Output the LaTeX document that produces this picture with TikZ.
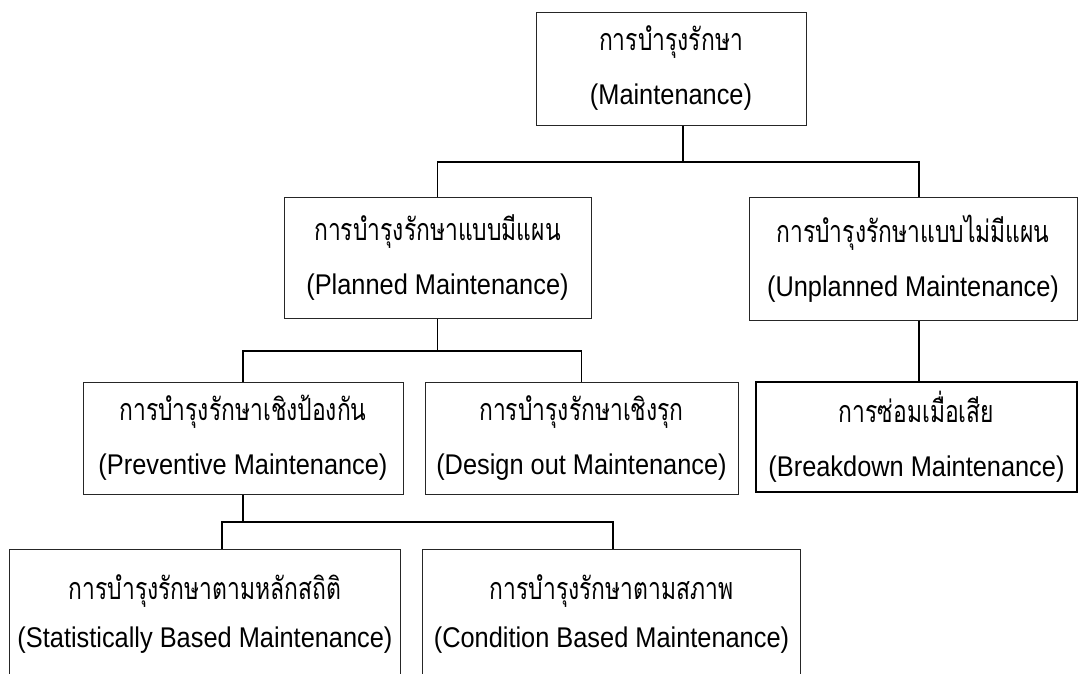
\documentclass[tikz,border=0pt]{standalone}
\usepackage{fontspec}
\setmainfont[FakeStretch=0.89]{Liberation Sans}
\newfontfamily\thaifont[Script=Thai,FakeStretch=0.75]{Loma}
\newcommand\thline[1]{{\thaifont\fontsize{30.5}{53}\selectfont #1}}
\begin{document}
\begin{tikzpicture}[x=1pt,y=-1pt,
  box/.style={draw=black!85,line width=1pt,inner sep=0pt,align=center,
    font=\fontsize{28.5}{54}\selectfont},
  openbox/.style={inner sep=0pt,align=center,font=\fontsize{28.5}{48}\selectfont},
  thickbox/.style={box,line width=2pt,draw=black},
  conn/.style={line width=1.8pt,black}]
\useasboundingbox (0,0) rectangle (1080,673);
\fill[white] (0,0) rectangle (1080,673);
\node[box,minimum width=270pt,minimum height=113pt] (top) at (671,68.5)
  {\thline{การบำรุงรักษา}\\(Maintenance)};
\node[box,minimum width=307pt,minimum height=121pt] (plan) at (437.5,257.5)
  {\thline{การบำรุงรักษาแบบมีแผน}\\(Planned Maintenance)};
\node[box,minimum width=328pt,minimum height=123pt] (unplan) at (913,258.5)
  {\thline{การบำรุงรักษาแบบไม่มีแผน}\\(Unplanned Maintenance)};
\node[box,minimum width=320pt,minimum height=112pt] (prev) at (243,438)
  {\thline{การบำรุงรักษาเชิงป้องกัน}\\(Preventive Maintenance)};
\node[box,minimum width=313pt,minimum height=112pt] (design) at (581.5,438)
  {\thline{การบำรุงรักษาเชิงรุก}\\(Design out Maintenance)};
\node[thickbox,minimum width=321pt,minimum height=110pt] (brk) at (916.5,437)
  {\thline{การซ่อมเมื่อเสีย}\\(Breakdown Maintenance)};
\node[openbox,minimum width=390pt,minimum height=130pt] (stat) at (205,614)
  {\thline{การบำรุงรักษาตามหลักสถิติ}\\(Statistically Based Maintenance)};
\node[openbox,minimum width=377pt,minimum height=130pt] (cond) at (611.5,614)
  {\thline{การบำรุงรักษาตามสภาพ}\\(Condition Based Maintenance)};
\coordinate (statTL) at (10,549);
\coordinate (condTL) at (423,549);
\draw[draw=black!85,line width=1pt] (stat.south west) -- (stat.west |- statTL) -- (stat.east |- statTL) -- (stat.south east);
\draw[draw=black!85,line width=1pt] (cond.south west) -- (cond.west |- condTL) -- (cond.east |- condTL) -- (cond.south east);
\coordinate (j1) at (683,162);
\coordinate (j2) at (437.5,351);
\coordinate (j3) at (243,522);
\coordinate (j3l) at (222,522);
\coordinate (j3r) at (613,522);
\coordinate (j4) at (919,162);
\draw[conn] (top.south -| j1) -- (j1);
\draw[conn] (j1) -| (plan.north);
\draw[conn] (j1) -- (j4) -- (unplan.north -| j4);
\draw[conn] (plan.south) -- (j2) -| (prev.north);
\draw[conn] (j2) -| (design.north);
\draw[conn] (unplan.south -| j4) -- (brk.north -| j4);
\draw[conn] (prev.south) -- (j3);
\draw[conn] (j3) -- (j3l) -- (statTL -| j3l);
\draw[conn] (j3) -- (j3r) -- (condTL -| j3r);
\end{tikzpicture}
\end{document}
